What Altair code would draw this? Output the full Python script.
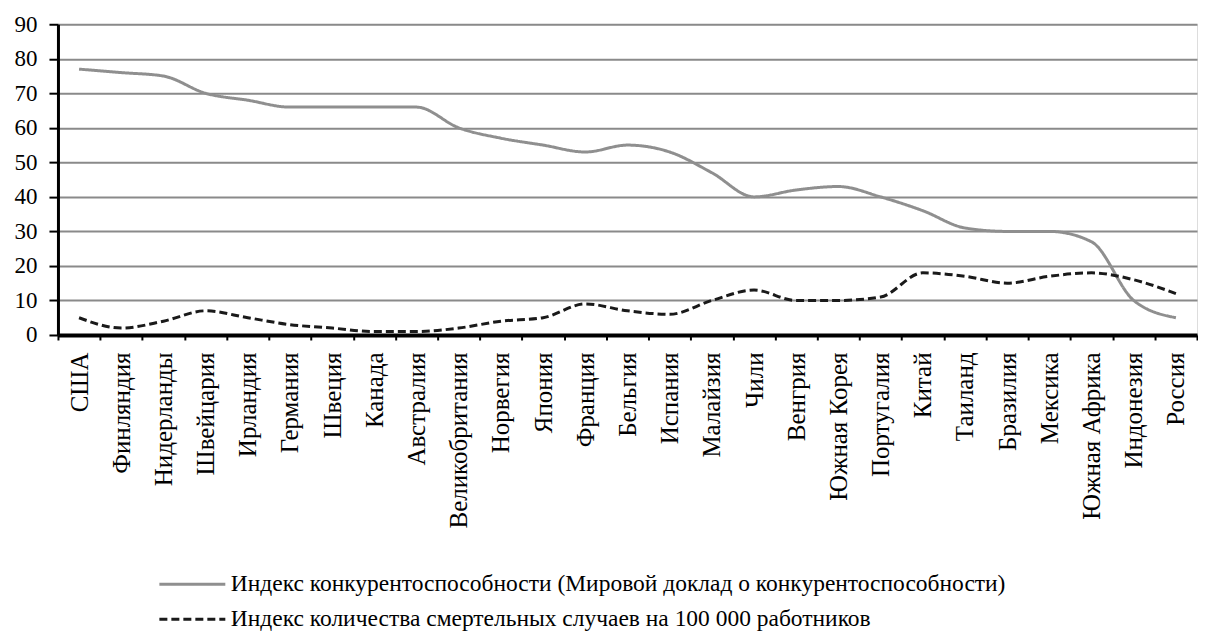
import altair as alt
import pandas as pd

countries = ["США", "Финляндия", "Нидерланды", "Швейцария", "Ирландия", "Германия",
             "Швеция", "Канада", "Австралия", "Великобритания", "Норвегия", "Япония",
             "Франция", "Бельгия", "Испания", "Малайзия", "Чили", "Венгрия",
             "Южная Корея", "Португалия", "Китай", "Таиланд", "Бразилия", "Мексика",
             "Южная Африка", "Индонезия", "Россия"]
competitiveness = [77, 76, 75, 70, 68, 66, 66, 66, 66, 60, 57, 55, 53, 55, 53, 47, 40, 42,
                   43, 40, 36, 31, 30, 30, 27, 10, 5]
fatalities = [5, 2, 4, 7, 5, 3, 2, 1, 1, 2, 4, 5, 9, 7, 6, 10, 13, 10, 10, 11, 18, 17,
              15, 17, 18, 16, 12]
series_names = ["Индекс конкурентоспособности (Мировой доклад о конкурентоспособности)",
                "Индекс количества смертельных случаев на 100 000 работников"]
y_ticks = [0, 10, 20, 30, 40, 50, 60, 70, 80, 90]

df = pd.concat([
    pd.DataFrame({"country": countries, "value": competitiveness, "series": series_names[0]}),
    pd.DataFrame({"country": countries, "value": fatalities, "series": series_names[1]}),
], ignore_index=True)

FONT = "'Liberation Serif', 'Times New Roman', 'DejaVu Serif', serif"

legend = alt.Legend(
    title=None, orient="none", legendX=116.5, legendY=542.5, direction="vertical",
    symbolType="M-2,0H2", symbolSize=1089, symbolStrokeWidth=3,
    labelFont=FONT, labelFontSize=23.5, labelColor="#000000", labelLimit=2000,
    rowPadding=5, labelOffset=20.5,
)

chart = alt.Chart(df).mark_line(interpolate="monotone", strokeWidth=3).encode(
    x=alt.X("country:N", sort=countries,
            scale=alt.Scale(type="band", paddingInner=0, paddingOuter=0),
            axis=alt.Axis(title=None, labelAngle=-90, tickBand="extent", tickSize=5,
                          tickWidth=2, tickColor="#000000", domainColor="#000000",
                          domainWidth=4, labelFont=FONT, labelFontSize=25,
                          labelColor="#000000", labelPadding=12, grid=False)),
    y=alt.Y("value:Q", scale=alt.Scale(domain=[0, 90], nice=False),
            axis=alt.Axis(title=None, values=y_ticks, tickSize=9, tickWidth=2,
                          tickColor="#000000", domainColor="#000000", domainWidth=3,
                          labelFont=FONT, labelFontSize=23, labelColor="#000000",
                          labelPadding=12, grid=True, gridColor="#8a8a8a", gridWidth=2)),
    color=alt.Color("series:N", scale=alt.Scale(domain=series_names, range=["#8f8f8f", "#1a1a1a"]),
                    legend=legend),
    strokeDash=alt.StrokeDash("series:N", scale=alt.Scale(domain=series_names, range=[[1, 0], [8, 4]]),
                              legend=legend),
).properties(
    width=1140, height=311,
    padding={"left": 6, "top": 5, "right": 0, "bottom": 5},
).configure_view(stroke=None).configure(background="#ffffff")

chart.save("out.html", embed_options={"renderer": "svg", "actions": False})
